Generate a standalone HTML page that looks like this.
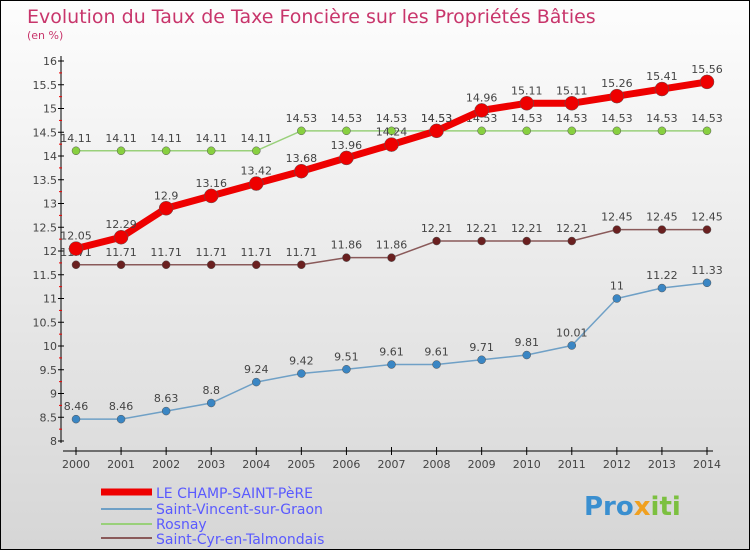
<!DOCTYPE html>
<html><head><meta charset="utf-8"><style>
body{margin:0}
#c{width:748px;height:548px;border:1px solid #000;background:linear-gradient(#fdfdfd,#d6d6d6);position:relative;font-family:"DejaVu Sans","Liberation Sans",sans-serif}
</style></head><body>
<div id="c">
<svg id="s" width="748" height="548">
<text x="26" y="22" font-size="19" fill="#c8356b">Evolution du Taux de Taxe Foncière sur les Propriétés Bâties</text>
<text x="26" y="38" font-size="11" fill="#c8356b">(en %)</text>
<g id="g"></g>
<g font-size="14" fill="#5a5aff">
<line x1="100" y1="491" x2="151" y2="491" stroke="#e00" stroke-width="7"/>
<text x="155" y="497">LE CHAMP-SAINT-PèRE</text>
<line x1="100" y1="508" x2="151" y2="508" stroke="#6fa0c6" stroke-width="2"/>
<text x="155" y="513">Saint-Vincent-sur-Graon</text>
<line x1="100" y1="523" x2="151" y2="523" stroke="#99d07a" stroke-width="2"/>
<text x="155" y="528">Rosnay</text>
<line x1="100" y1="537" x2="151" y2="537" stroke="#8a5a5a" stroke-width="2"/>
<text x="155" y="543">Saint-Cyr-en-Talmondais</text>
</g>
<text x="583" y="514" font-size="26" font-weight="bold" fill="#3a8fd0">Pro<tspan fill="#f0a020">x</tspan><tspan fill="#7cc040">iti</tspan></text>
</svg>
</div>
<script>
const years=[2000,2001,2002,2003,2004,2005,2006,2007,2008,2009,2010,2011,2012,2013,2014];
const yTicks=[8,8.5,9,9.5,10,10.5,11,11.5,12,12.5,13,13.5,14,14.5,15,15.5,16];
const champ=[12.05,12.29,12.9,13.16,13.42,13.68,13.96,14.24,14.53,14.96,15.11,15.11,15.26,15.41,15.56];
const vincent=[8.46,8.46,8.63,8.8,9.24,9.42,9.51,9.61,9.61,9.71,9.81,10.01,11,11.22,11.33];
const rosnay=[14.11,14.11,14.11,14.11,14.11,14.53,14.53,14.53,14.53,14.53,14.53,14.53,14.53,14.53,14.53];
const cyr=[11.71,11.71,11.71,11.71,11.71,11.71,11.86,11.86,12.21,12.21,12.21,12.21,12.45,12.45,12.45];
const NS='http://www.w3.org/2000/svg';
const g=document.getElementById('g');
const X=i=>75+i*(706-75)/(years.length-1);
const Y=v=>440-(v-8)*47.5;
function el(t,a){const e=document.createElementNS(NS,t);for(const k in a)e.setAttribute(k,a[k]);g.appendChild(e);return e;}
let e=el('line',{x1:60,y1:55,x2:60,y2:442,stroke:'#000'});


e=el('line',{x1:62,y1:450,x2:712,y2:450,stroke:'#000'});


yTicks.forEach(v=>{
 const y=Y(v);
 let t=el('line',{x1:57,y1:y,x2:63,y2:y,stroke:'#000'});
 
 
 let r=el('line',{x1:58,y1:y+11.9,x2:61,y2:y+11.9,stroke:'#e00'});
 if(v===8){r.remove();}
 t=el('text',{x:56,y:y+4,'font-size':11,fill:'#444','text-anchor':'end'});
 t.textContent=String(v);
 
 
});
years.forEach((yr,i)=>{
 let t=el('line',{x1:X(i),y1:446,x2:X(i),y2:454,stroke:'#000'});
 
 
 t=el('text',{x:X(i),y:467,'font-size':11,fill:'#444','text-anchor':'middle'});
 t.textContent=yr;
 
 
});
function series(data,color,dot,w,r,name){
 const p=el('polyline',{points:data.map((v,i)=>X(i)+','+Y(v)).join(' '),fill:'none',stroke:color,'stroke-width':w});
 
 
 data.forEach((v,i)=>{
  const c=el('circle',{cx:X(i),cy:Y(v),r:r,fill:dot,stroke:'#555','stroke-width':0.5});
  
  
  const t=el('text',{x:X(i),y:Y(v)-9,'font-size':11,fill:'#444','text-anchor':'middle'});
  t.textContent=String(v);
  
  
 });
}
series(vincent,'#6fa0c6','#3a86c4',1.5,4,'vincent');
series(cyr,'#8a5a5a','#6a2020',1.5,4,'cyr');
series(rosnay,'#99d07a','#88d040',1.5,4,'rosnay');
series(champ,'#e00','#e00',7,7,'champ');
</script>
</body></html>
